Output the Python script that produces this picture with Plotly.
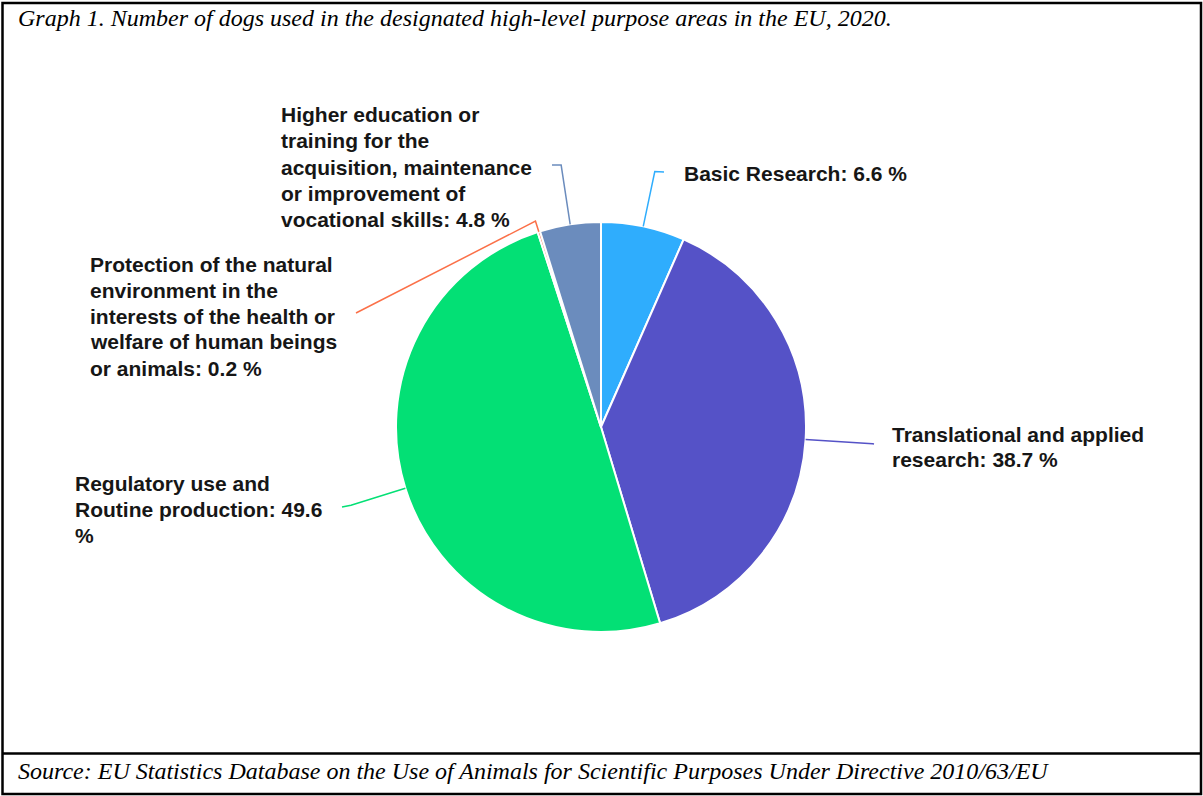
import math
import plotly.graph_objects as go

# ---------------- data ----------------
categories = [
    "Basic Research",
    "Translational and applied research",
    "Regulatory use and Routine production",
    "Protection of the natural environment in the interests of the health or welfare of human beings or animals",
    "Higher education or training for the acquisition, maintenance or improvement of vocational skills",
]
values = [6.6, 38.7, 49.6, 0.2, 4.8]
label_lines = [
    ["Basic Research: 6.6 %"],
    ["Translational and applied", "research: 38.7 %"],
    ["Regulatory use and", "Routine production: 49.6", "%"],
    ["Protection of the natural", "environment in the", "interests of the health or",
     "welfare of human beings", "or animals: 0.2 %"],
    ["Higher education or", "training for the", "acquisition, maintenance",
     "or improvement of", "vocational skills: 4.8 %"],
]
title_text = "Graph 1. Number of dogs used in the designated high-level purpose areas in the EU, 2020."
source_text = "Source: EU Statistics Database on the Use of Animals for Scientific Purposes Under Directive 2010/63/EU"

# ---------------- style / layout ----------------
colors = ["#2fadfd", "#5552c7", "#03e075", "#fb7048", "#6b8cbd"]
W, H = 1203, 796
CX, CY, R = 601, 427, 205
elbow_r = [261, 272, 262, 216, 265]
line_end = [(664, 172), (874, 444), (342, 507), (356, 313), (552, 165)]
label_pos = [(682, 173), (890, 434), (73, 483), (88, 264), (279, 115)]
LINE_STEP = 26
LABEL_FONT = dict(family="Liberation Sans, Arial, sans-serif", size=21, color="#161616")
SERIF = "Liberation Serif, Times New Roman, serif"


def px(x):
    return x / W


def py(y):
    return 1 - y / H


fig = go.Figure(
    go.Pie(
        labels=categories,
        values=values,
        sort=False,
        direction="clockwise",
        rotation=0,
        marker=dict(colors=colors, line=dict(color="white", width=2)),
        textinfo="none",
        hoverinfo="label+percent",
        showlegend=False,
        domain=dict(x=[px(CX - R), px(CX + R)], y=[py(CY + R), py(CY - R)]),
    )
)

shapes = []
annotations = []
total = sum(values)
cum = 0.0
for i, v in enumerate(values):
    mid = (cum + v / 2) / total * 2 * math.pi
    cum += v
    sx, sy = CX + R * math.sin(mid), CY - R * math.cos(mid)
    ex, ey = CX + elbow_r[i] * math.sin(mid), CY - elbow_r[i] * math.cos(mid)
    fx, fy = line_end[i]
    path = f"M {px(sx)},{py(sy)} L {px(ex)},{py(ey)} L {px(fx)},{py(fy)}"
    shapes.append(dict(type="path", xref="paper", yref="paper", path=path,
                       line=dict(color=colors[i], width=1.5)))
    lx, ly = label_pos[i]
    for j, txt in enumerate(label_lines[i]):
        annotations.append(dict(
            x=px(lx), y=py(ly + j * LINE_STEP), xref="paper", yref="paper",
            text="<b>" + txt + "</b>", showarrow=False, xanchor="left", yanchor="middle",
            font=LABEL_FONT,
        ))

# frame
shapes.append(dict(type="rect", xref="paper", yref="paper", x0=px(2.5), x1=px(1201), y0=py(794), y1=py(3),
                   line=dict(color="black", width=2.5), fillcolor="rgba(0,0,0,0)"))
shapes.append(dict(type="line", xref="paper", yref="paper", x0=px(2.5), x1=px(1201), y0=py(753.5), y1=py(753.5),
                   line=dict(color="black", width=2.5)))

annotations.append(dict(x=px(16), y=py(18), xref="paper", yref="paper", text="<i>" + title_text + "</i>",
                        showarrow=False, xanchor="left", yanchor="middle",
                        font=dict(family=SERIF, size=24, color="black")))
annotations.append(dict(x=px(16), y=py(771), xref="paper", yref="paper", text="<i>" + source_text + "</i>",
                        showarrow=False, xanchor="left", yanchor="middle",
                        font=dict(family=SERIF, size=24, color="black")))

fig.update_layout(
    width=W, height=H,
    margin=dict(l=0, r=0, t=0, b=0),
    paper_bgcolor="white", plot_bgcolor="white",
    shapes=shapes, annotations=annotations,
)

fig.write_html("out.html")
